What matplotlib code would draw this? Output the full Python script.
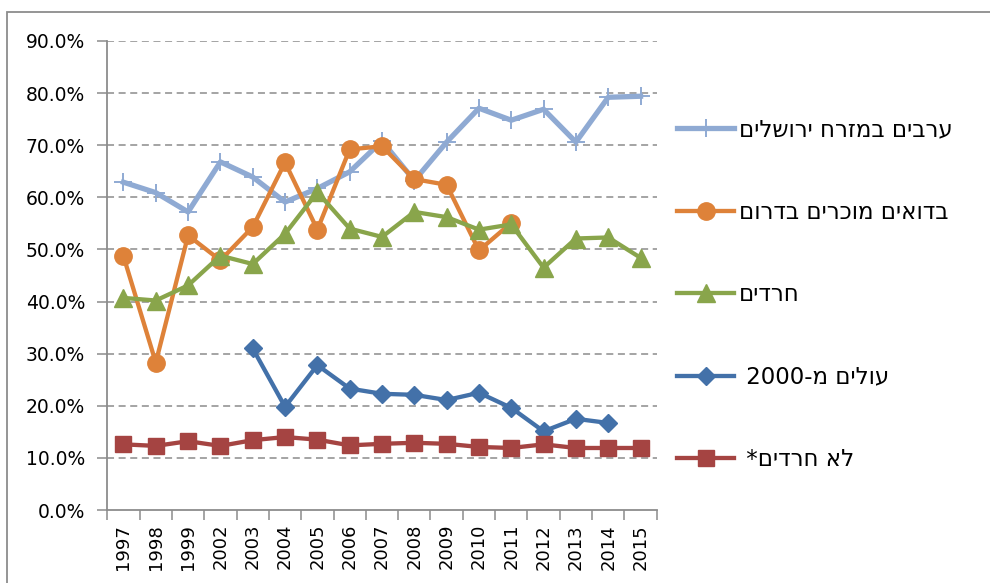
import matplotlib
matplotlib.use('Agg')
from matplotlib import pyplot as plt
from matplotlib.patches import Rectangle
from matplotlib.ticker import FuncFormatter, FixedLocator
import numpy as np
import re

plt.rcParams['font.family'] = ['DejaVu Sans']

years = ['1997', '1998', '1999', '2002', '2003', '2004', '2005', '2006', '2007',
         '2008', '2009', '2010', '2011', '2012', '2013', '2014', '2015']

nan = np.nan
arabs_jerusalem = [62.9, 60.9, 57.2, 66.8, 63.9, 59.1, 61.7, 64.9, 70.8,
                   63.2, 70.6, 77.1, 74.8, 76.9, 70.6, 79.2, 79.4]
bedouin = [48.7, 28.3, 52.7, 47.9, 54.3, 66.7, 53.8, 69.2, 69.8,
           63.5, 62.4, 49.8, 55.1, nan, nan, nan, nan]
haredim = [40.7, 40.2, 43.1, 48.8, 47.2, 53.0, 61.0, 54.0, 52.4,
           57.2, 56.2, 53.8, 54.8, 46.5, 52.1, 52.3, 48.4]
immigrants = [nan, nan, nan, nan, 31.0, 19.8, 27.8, 23.3, 22.3,
              22.1, 21.1, 22.5, 19.6, 15.1, 17.5, 16.7, nan]
non_haredim = [12.6, 12.3, 13.2, 12.3, 13.4, 14.0, 13.5, 12.4, 12.7,
               12.9, 12.7, 12.1, 11.9, 12.6, 11.9, 11.9, 11.9]

labels = ['ערבים במזרח ירושלים', 'בדואים מוכרים בדרום', 'חרדים',
          'עולים מ-2000', 'לא חרדים*']


def visual(s):
    # matplotlib has no bidi: reverse hebrew, keep digit runs readable
    r = s[::-1]
    return re.sub(r'\d+', lambda m: m.group(0)[::-1], r)


fig = plt.figure(figsize=(9.9, 5.83), dpi=100)
W, H = 990.0, 583.0
ax = fig.add_axes([107.3 / W, 1 - 510 / H, (656.7 - 107.3) / W, (510 - 41) / H])

x = np.arange(len(years))
lw = 3.1
l1, = ax.plot(x, arabs_jerusalem, color='#8FAAD3', lw=3.8, marker='+',
              ms=13, mew=1.4, mec='#8FAAD3')
l2, = ax.plot(x, bedouin, color='#DE8239', lw=lw, marker='o', ms=12.5)
l3, = ax.plot(x, haredim, color='#89A54B', lw=lw, marker='^', ms=12.5)
l4, = ax.plot(x, immigrants, color='#4371A9', lw=lw, marker='D', ms=9)
l5, = ax.plot(x, non_haredim, color='#A54442', lw=lw, marker='s', ms=12)

ax.set_xlim(-0.5, len(years) - 0.5)
ax.set_ylim(0, 90)
ax.set_yticks(np.arange(0, 91, 10))
ax.yaxis.set_major_formatter(FuncFormatter(lambda v, p: '{:.1f}%'.format(v)))
ax.set_xticks(x)
ax.set_xticklabels(years, rotation=90)
ax.xaxis.set_minor_locator(FixedLocator(np.arange(-0.5, len(years), 1.0)))

grey = '#8C8C8C'
ax.tick_params(axis='x', which='major', length=0, pad=10, labelsize=13)
ax.tick_params(axis='x', which='minor', length=7, color=grey, width=1.1)
ax.tick_params(axis='y', length=7, color=grey, width=1.1, pad=9, labelsize=13.5)
for side in ['top', 'right']:
    ax.spines[side].set_visible(False)
for side in ['left', 'bottom']:
    ax.spines[side].set_color(grey)
    ax.spines[side].set_linewidth(1.3)

for v in np.arange(10, 91, 10):
    ax.axhline(v, color=grey, lw=1.1, ls=(0, (4.6, 3.0)), zorder=0.5)

leg = fig.legend([l1, l2, l3, l4, l5],
                 [visual(labels[0]), visual(labels[1]), visual(labels[2]),
                  ' ' + visual(labels[3]), ' ' + visual(labels[4])],
                 loc='upper left', bbox_to_anchor=(677 / W, 1 - 118 / H),
                 bbox_transform=fig.transFigure, frameon=False, fontsize=16.5,
                 handlelength=2.5, handletextpad=0.2, labelspacing=2.6,
                 borderpad=0, borderaxespad=0)

fig.patches.append(Rectangle((7 / W, -0.1), 1.2, 1 - 12 / H + 0.1,
                             transform=fig.transFigure, fill=False,
                             edgecolor='#8C8C8C', lw=1.3))

fig.savefig('out.png', dpi=100)
